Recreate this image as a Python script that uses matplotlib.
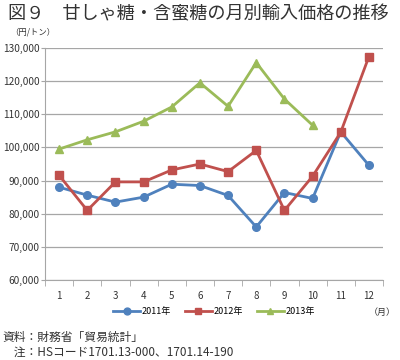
import matplotlib as mpl

mpl.use("Agg")
import matplotlib.pyplot as plt
from matplotlib.ticker import FuncFormatter, MultipleLocator

plt.rcParams["font.family"] = ["Noto Sans CJK JP", "DejaVu Sans"]

MONTHS = list(range(1, 13))
Y2011 = [88000, 85600, 83500, 85000, 88900, 88500, 85500, 76000, 86400, 84600, 104700, 94600]
Y2012 = [91600, 81000, 89600, 89600, 93200, 95000, 92700, 99100, 81000, 91300, 104600, 127400]
Y2013 = [99500, 102300, 104700, 107900, 112200, 119500, 112400, 125600, 114600, 106700]
SERIES = [
    ("2011年", Y2011, "#4F81BD", "o"),
    ("2012年", Y2012, "#C0504D", "s"),
    ("2013年", Y2013, "#9BBB59", "^"),
]
INK, GRID = "#333333", "#a6a6a6"

fig = plt.figure(figsize=(4, 3.6), dpi=100, facecolor="white")
ax = fig.add_axes([0.1125, 0.2222, 0.845, 0.6445])

for label, vals, color, marker in SERIES:
    ax.plot(MONTHS[: len(vals)], vals, color=color, marker=marker, ms=5.5, lw=2, label=label)

ax.set_xlim(0.5, 12.5)
ax.set_ylim(60000, 130000)
ax.yaxis.set_major_locator(MultipleLocator(10000))
ax.yaxis.set_major_formatter(FuncFormatter(lambda v, _: f"{int(v):,}"))
ax.set_xticks(MONTHS)
ax.set_xticks([m + 0.5 for m in range(0, 13)], minor=True)
ax.tick_params(axis="x", which="major", length=0, pad=8, labelsize=7, colors=INK)
ax.tick_params(axis="x", which="minor", length=4, color=GRID, direction="out")
ax.tick_params(axis="y", length=3, color=GRID, labelsize=7.3, colors=INK, pad=1)
ax.grid(axis="y", color=GRID, lw=0.9)
ax.set_axisbelow(True)
for side in ("top", "right"):
    ax.spines[side].set_visible(False)
for side in ("left", "bottom"):
    ax.spines[side].set_color(GRID)

fig.text(0.02, 0.985, "図９　甘しゃ糖・含蜜糖の月別輸入価格の推移", fontsize=13.1, va="top", color=INK)
fig.text(0.025, 0.91, "（円/トン）", fontsize=6, va="center", color=INK)
fig.text(0.99, 0.133, "（月）", fontsize=6.5, ha="right", va="center", color=INK)

ax.legend(loc="center", bbox_to_anchor=(0.5, -0.135), ncol=3, frameon=False, fontsize=6.5,
          handlelength=3, columnspacing=1.5, handletextpad=0.2, markerscale=0.9)

fig.text(0.005, 0.062, "資料：財務省「貿易統計」", fontsize=8.5, va="center", color=INK)
fig.text(0.005, 0.022, "　注：HSコード1701.13-000、1701.14-190", fontsize=8.5, va="center", color=INK)

fig.savefig("out.png", dpi=100, facecolor="white")
